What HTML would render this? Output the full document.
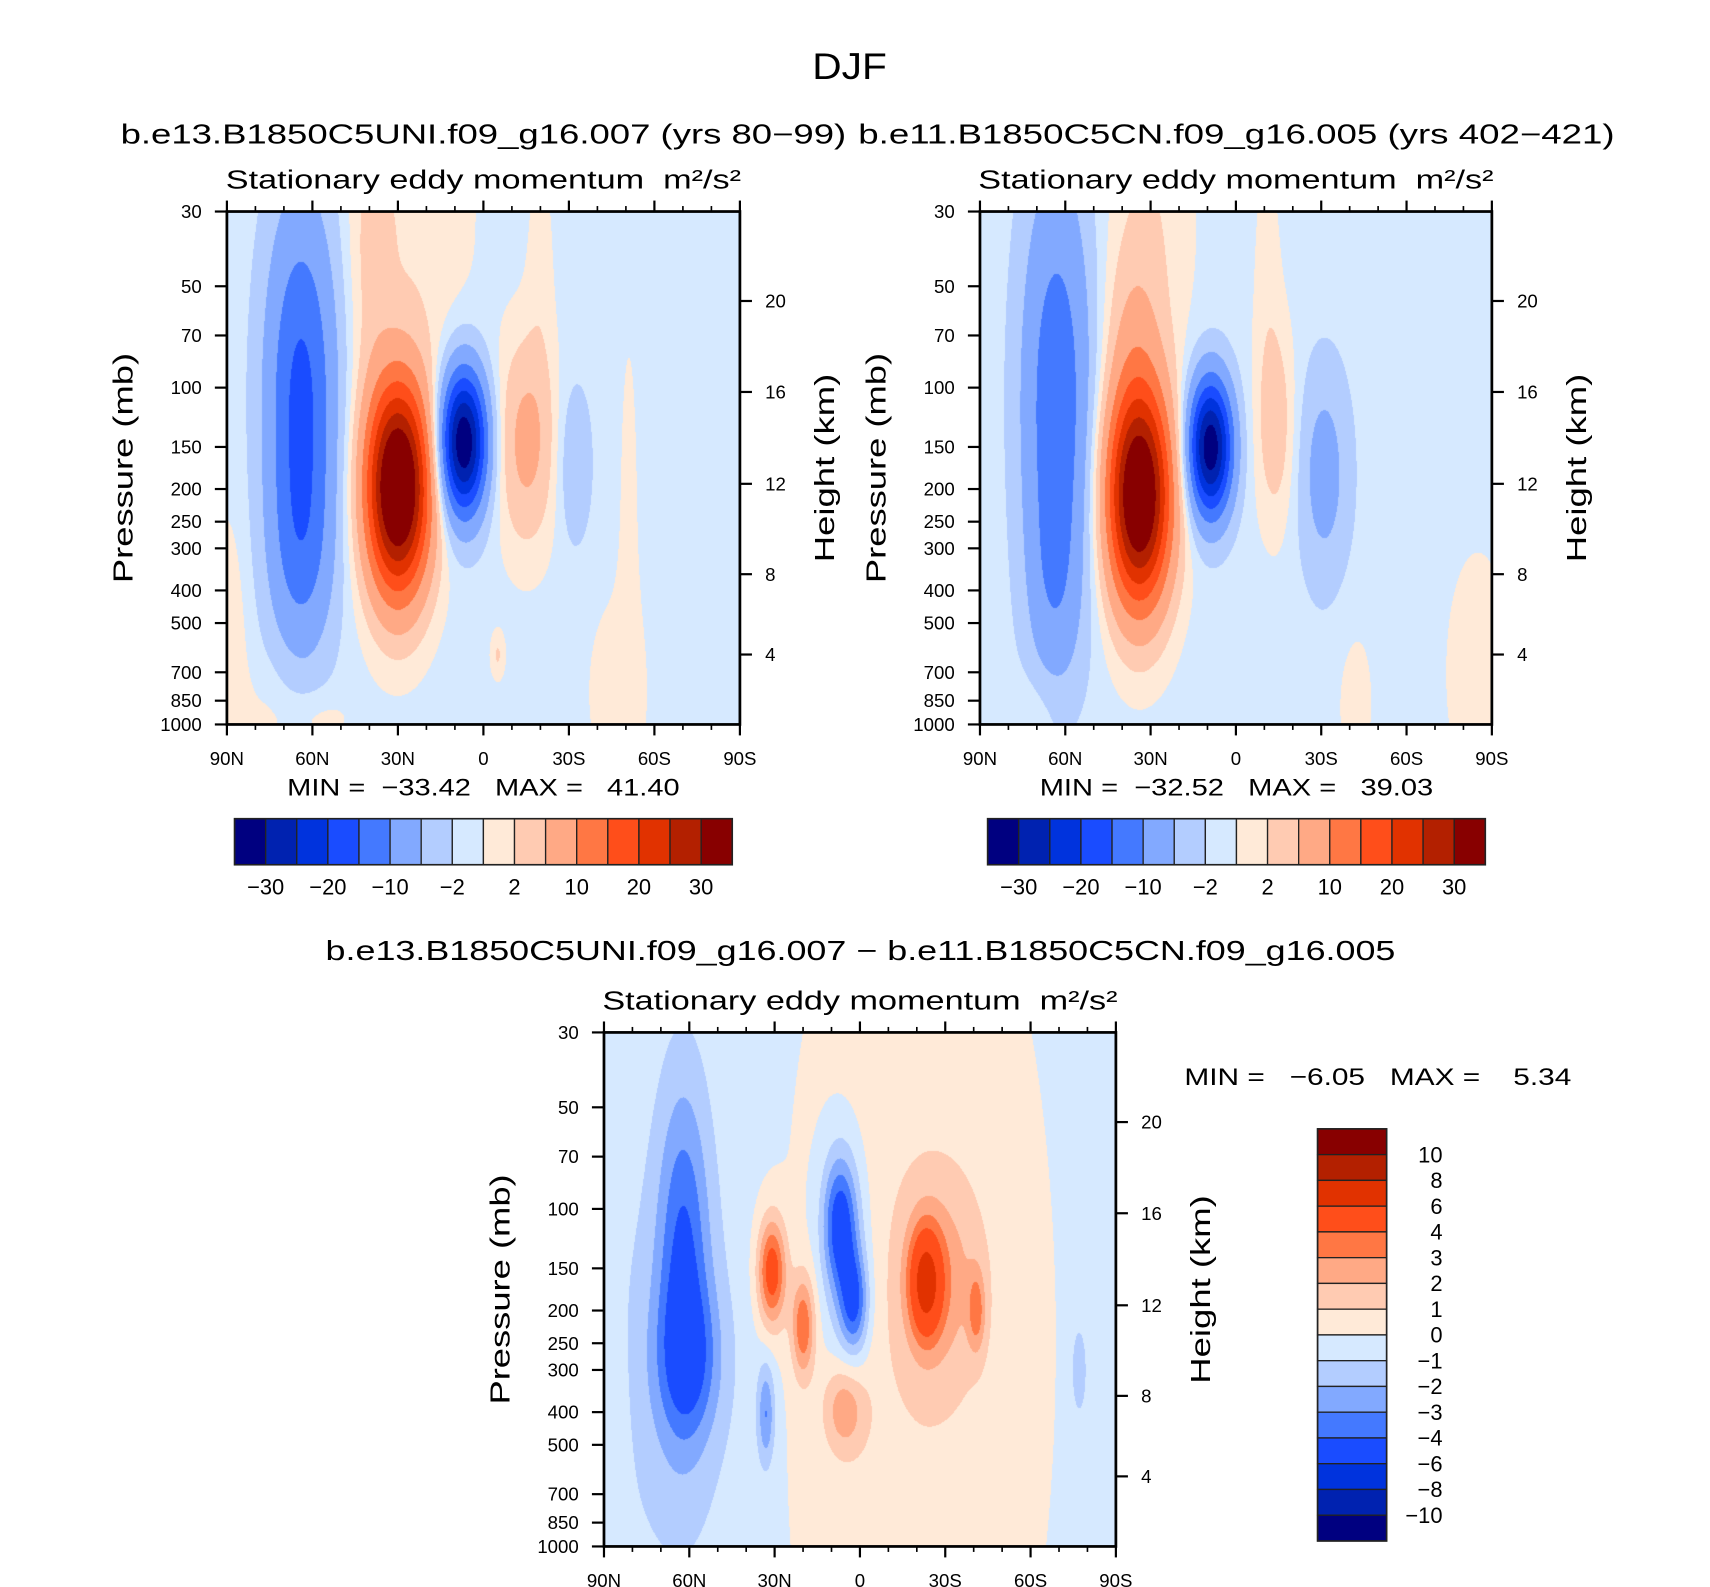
<!DOCTYPE html>
<html><head><meta charset="utf-8">
<style>
html,body{margin:0;padding:0;background:#fff;}
#root{position:relative;width:1710px;height:1587px;overflow:hidden;background:#fff;}
canvas{position:absolute;}
svg{position:absolute;left:0;top:0;}
text{font-family:"Liberation Sans",sans-serif;fill:#000;white-space:pre;}
</style></head>
<body>
<div id="root">
<canvas id="c1"></canvas>
<canvas id="c2"></canvas>
<canvas id="c3"></canvas>
<svg id="svg" width="1710" height="1587" viewBox="0 0 1560 1448" preserveAspectRatio="none">
<text x="775" y="72" font-size="34" text-anchor="middle" textLength="68" lengthAdjust="spacingAndGlyphs">DJF</text>
<text x="441" y="131" font-size="25" text-anchor="middle" textLength="662" lengthAdjust="spacingAndGlyphs">b.e13.B1850C5UNI.f09_g16.007 (yrs 80−99)</text>
<text x="1128" y="131" font-size="25" text-anchor="middle" textLength="690" lengthAdjust="spacingAndGlyphs">b.e11.B1850C5CN.f09_g16.005 (yrs 402−421)</text>
<text x="785" y="876" font-size="25" text-anchor="middle" textLength="976" lengthAdjust="spacingAndGlyphs">b.e13.B1850C5UNI.f09_g16.007 − b.e11.B1850C5CN.f09_g16.005</text>
<g id="axes"></g>
</svg>
</div>
<script>
// ---------- data ----------
const S = 1710/1560;
const latTicks = [90,60,30,0,-30,-60,-90];
const latTickLabels = ["90N","60N","30N","0","30S","60S","90S"];
const presTicks = [30,50,70,100,150,200,250,300,400,500,700,850,1000];
const heightTicks = [20,16,12,8,4];
const heightTickPres = [55.3,103,193,358,620];
const levelsMain = [-30,-25,-20,-15,-10,-5,-2,0,2,5,10,15,20,25,30];
const levelsMainLabels = ["−30","−20","−10","−2","2","10","20","30"];
const levelsDiff = [-10,-8,-6,-4,-3,-2,-1,0,1,2,3,4,6,8,10];
const levelsDiffLabels = ["−10","−8","−6","−4","−3","−2","−1","0","1","2","3","4","6","8","10"];
const palette = ["#000080","#0022b0","#0033dd","#1a4cff","#4479ff","#82a9ff","#b3cdff","#d6e9ff","#ffead8","#ffcbb2","#ffa985","#ff7744","#ff4e1a","#e13200","#b32000","#880000"];

// panel 1 features (lat, pressure mb, amplitude, lat width, log-p width)
const p1Base = -0.8;
const p1Lat = [64,64,30,40,7,-15,-32,22,-20,-47,-51,90,58,-5,88,75];
const p1P   = [105,320,198,40,145,145,168,30,45,800,250,450,950,620,700,900];
const p1Amp = [-15.5,-6,42,3,-34,7,-3.8,2.5,1.5,1.8,1.3,1.4,1.8,3,1.5,1.2];
const p1Sx  = [12,11,11,8,8,10,6,18,5,11,4,5,12,2.5,6,10];
const p1Su  = [0.55,0.3,0.31,0.4,0.21,0.3,0.24,0.5,0.4,0.3,0.7,0.3,0.08,0.07,0.35,0.15];

// panel 2 features
const p2Base = -0.8;
const p2Lat = [63,64,34,36,9,-14,-31,30,-11,-42,-85,70];
const p2P   = [110,400,210,70,150,130,180,30,45,850,700,900];
const p2Amp = [-13,-4,40,4,-33,4.5,-6,2.5,1.5,1.5,1.5,1.6];
const p2Sx  = [12,9,11,10,7.5,7,9,15,5,7,14,10];
const p2Su  = [0.65,0.3,0.32,0.3,0.2,0.3,0.32,0.5,0.4,0.25,0.45,0.12];

// panel 3 (difference) features
const p3Base = -0.4;
const p3Lat = [60,62,65,33,31,20,5.5,7,2,5,-23,-29,-41,-20,87,-77];
const p3P   = [280,130,300,404,153,222,390,110,190,140,165,160,200,250,500,300];
const p3Amp = [-2.3,-3.2,-1.2,-2.8,5,3.8,2.5,-4.3,-3.8,-1.5,5,1.8,2.5,1.3,0.7,-1.5];
const p3Sx  = [11,9,22,3,5,4,7,6,5,9,6,14,3,45,5,3];
const p3Su  = [0.22,0.5,0.6,0.15,0.16,0.15,0.13,0.2,0.15,0.35,0.17,0.28,0.12,1.5,0.4,0.15];

// ---------- layout (display units) ----------
const panels = [
  {id:"c1", x:207, y:193, w:468, h:468, base:p1Base, lat:p1Lat, p:p1P, amp:p1Amp, sx:p1Sx, su:p1Su, levels:levelsMain, name:"unified"},
  {id:"c2", x:894, y:193, w:467, h:468, base:p2Base, lat:p2Lat, p:p2P, amp:p2Amp, sx:p2Sx, su:p2Su, levels:levelsMain, name:"control"},
  {id:"c3", x:551, y:942, w:467, h:469, base:p3Base, lat:p3Lat, p:p3P, amp:p3Amp, sx:p3Sx, su:p3Su, levels:levelsDiff, name:"difference"}
];
const U0 = Math.log10(30), U1 = Math.log10(1000);

function fieldVal(pn, lat, u){
  let v = pn.base;
  for(let i=0;i<pn.lat.length;i++){
    const dx=(lat-pn.lat[i])/pn.sx[i], du=(u-Math.log10(pn.p[i]))/pn.su[i];
    v += pn.amp[i]*Math.exp(-dx*dx-du*du);
  }
  return v;
}
function hexRgb(h){return [parseInt(h.slice(1,3),16),parseInt(h.slice(3,5),16),parseInt(h.slice(5,7),16)];}
const palRgb = palette.map(hexRgb);

panels.forEach(pn=>{
  const c=document.getElementById(pn.id);
  const L=Math.round(pn.x*S), T=Math.round(pn.y*S);
  const W=Math.round((pn.x+pn.w)*S)-L, H=Math.round((pn.y+pn.h)*S)-T;
  c.width=W; c.height=H; c.style.left=L+"px"; c.style.top=T+"px";
  const ctx=c.getContext("2d"); const img=ctx.createImageData(W,H);
  for(let j=0;j<H;j++){
    const u=U0+(j+0.5)/H*(U1-U0);
    for(let i=0;i<W;i++){
      const lat=90-180*(i+0.5)/W;
      const v=fieldVal(pn,lat,u);
      let k=0; while(k<pn.levels.length && v>=pn.levels[k]) k++;
      const col=palRgb[k]; const o=(j*W+i)*4;
      img.data[o]=col[0];img.data[o+1]=col[1];img.data[o+2]=col[2];img.data[o+3]=255;
    }
  }
  ctx.putImageData(img,0,0);
});

// ---------- axes ----------
const NS="http://www.w3.org/2000/svg";
const axes=document.getElementById("axes");
function mk(tag,attrs,parent){const e=document.createElementNS(NS,tag);for(const k in attrs)e.setAttribute(k,attrs[k]);(parent||axes).appendChild(e);return e;}
function txt(s,attrs,parent){const e=mk("text",attrs,parent);e.textContent=s;return e;}

panels.forEach((pn,idx)=>{
  const g=mk("g",{});
  
  
  const xs=lat=>pn.x+(90-lat)/180*pn.w;
  const ys=p=>pn.y+(Math.log10(p)-U0)/(U1-U0)*pn.h;
  for(let lat=90;lat>=-90;lat-=10){
    const major=lat%30===0, len=major?10:5, X=xs(lat);
    mk("line",{x1:X,y1:pn.y+pn.h,x2:X,y2:pn.y+pn.h+len,stroke:"#000","stroke-width":major?2:1.5},g);
    mk("line",{x1:X,y1:pn.y,x2:X,y2:pn.y-len,stroke:"#000","stroke-width":major?2:1.5},g);
  }
  latTicks.forEach((lat,i)=>{
    const t=txt(latTickLabels[i],{x:xs(lat),y:pn.y+pn.h+37,"font-size":17,"text-anchor":"middle"},g);
    
    
  });
  presTicks.forEach(p=>{
    const Y=ys(p);
    mk("line",{x1:pn.x-11,y1:Y,x2:pn.x,y2:Y,stroke:"#000","stroke-width":2},g);
    const t=txt(String(p),{x:pn.x-23,y:Y+6,"font-size":17,"text-anchor":"end"},g);
    
    
  });
  heightTicks.forEach((h,i)=>{
    const Y=ys(heightTickPres[i]);
    mk("line",{x1:pn.x+pn.w,y1:Y,x2:pn.x+pn.w+11,y2:Y,stroke:"#000","stroke-width":2},g);
    const t=txt(String(h),{x:pn.x+pn.w+23,y:Y+6,"font-size":17},g);
    
    
  });
  mk("rect",{x:pn.x,y:pn.y,width:pn.w,height:pn.h,fill:"none",stroke:"#000","stroke-width":2.5},g);
  const st=txt("Stationary eddy momentum  m²/s²",{x:pn.x+pn.w/2,y:pn.y-21,"font-size":24,"text-anchor":"middle",textLength:470,lengthAdjust:"spacingAndGlyphs"},g);
  
  
  const cy=pn.y+pn.h/2;
  const yl=txt("Pressure (mb)",{x:pn.x-95,y:cy,"font-size":25,"text-anchor":"middle",transform:`rotate(-90 ${pn.x-95} ${cy})`,textLength:210,lengthAdjust:"spacingAndGlyphs",dy:9},g);
  
  
  const hx=pn.x+pn.w+77;
  const hl=txt("Height (km)",{x:hx,y:cy,"font-size":25,"text-anchor":"middle",transform:`rotate(-90 ${hx} ${cy})`,textLength:172,lengthAdjust:"spacingAndGlyphs",dy:9},g);
  
  
});

// MIN/MAX
const mmTexts=["MIN =  −33.42   MAX =   41.40","MIN =  −32.52   MAX =   39.03","MIN =   −6.05   MAX =    5.34"];
const mmX=[441,1128,1257], mmY=[726,726,990], mmW=[358,359,353];
mmTexts.forEach((s,i)=>{
  const t=txt(s,{x:mmX[i],y:mmY[i],"font-size":22,"text-anchor":"middle",textLength:mmW[i],lengthAdjust:"spacingAndGlyphs"});
  
  
});

// horizontal colorbars
[214,901].forEach((x0,ci)=>{
  const g=mk("g",{});
  
  
  const w=454/palette.length;
  palette.forEach((col,k)=>{
    const r=mk("rect",{x:x0+k*w,y:747,width:w,height:42,fill:col,stroke:"#222","stroke-width":1.2},g);
    
    
  });
  mk("rect",{x:x0,y:747,width:454,height:42,fill:"none",stroke:"#222","stroke-width":1.5},g);
  levelsMainLabels.forEach((lab,i)=>{
    const t=txt(lab,{x:x0+(2*i+1)*w,y:816,"font-size":20,"text-anchor":"middle"},g);
    
    
  });
});
// vertical colorbar
(function(){
  const g=mk("g",{});
  
  
  const x0=1202,y0=1030,h=376/palette.length;
  for(let k=0;k<palette.length;k++){
    const r=mk("rect",{x:x0,y:y0+k*h,width:63,height:h,fill:palette[palette.length-1-k],stroke:"#222","stroke-width":1.2},g);
    
    
  }
  mk("rect",{x:x0,y:y0,width:63,height:376,fill:"none",stroke:"#222","stroke-width":1.5},g);
  for(let i=0;i<levelsDiff.length;i++){
    const lab=levelsDiffLabels[levelsDiff.length-1-i];
    const t=txt(lab,{x:1316,y:y0+(i+1)*h+7,"font-size":20,"text-anchor":"end"},g);
    
    
  }
})();
</script>
</body></html>
